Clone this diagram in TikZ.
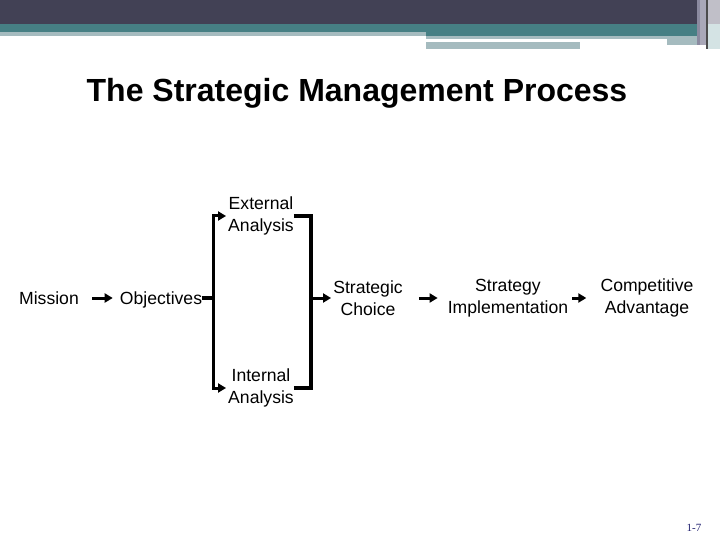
\documentclass[tikz,border=0pt]{standalone}
\usepackage{fontspec}
\setmainfont{Liberation Sans}
\newfontfamily\pagefont{Liberation Serif}
\usepackage{tikz}
\usetikzlibrary{arrows.meta}
\definecolor{bandDark}{HTML}{424155}
\definecolor{bandTeal}{HTML}{467F84}
\definecolor{bandLight}{HTML}{A5BBBF}
\definecolor{stripeMid}{HTML}{8B8AA0}
\definecolor{stripeSoft}{HTML}{A9A8B8}
\definecolor{stripeGray}{HTML}{C0BFC8}
\definecolor{stripePale}{HTML}{D4E3E4}
\definecolor{pageBlue}{HTML}{1F1F6E}
\tikzset{>={Triangle[length=8pt,width=9pt]}}
\tikzset{
  stage/.style={inner sep=0pt,align=center,font=\fontsize{17.6}{21.5}\selectfont},
  oneline/.style={stage,text height=12.6pt,text depth=0pt},
  flow/.style={->,line width=3pt},
  bracket/.style={line width=3.6pt}
}

\begin{document}
\begin{tikzpicture}[x=1pt,y=-1pt]
      \useasboundingbox (0,0) rectangle (720,540);

      % header bands
      \fill[bandDark] (0,0) rectangle (720,24);
      \fill[bandTeal] (0,24) rectangle (697,32);
      \fill[bandLight] (0,32) rectangle (426,36);
      \fill[bandTeal] (426,32) rectangle (697,36);
      \fill[bandLight] (426,36) rectangle (667,39);
      \fill[bandLight] (426,42) rectangle (580,49);
      \fill[bandLight] (667,36) rectangle (700,45);
      \fill[stripeMid] (697,0) rectangle (700,45);
      \fill[stripeSoft] (700,0) rectangle (706,45);
      \fill[black!70] (706,0) rectangle (708,49);
      \fill[stripeGray] (708,0) rectangle (720,24);
      \fill[stripePale] (708,24) rectangle (720,49);

      % title
      \node[font=\bfseries\fontsize{32}{38}\selectfont] (title) at (357,93) {The Strategic Management Process};

      % stages
      \node[oneline] (mission) at (49,298) {Mission};
      \node[oneline] (objectives) at (161,298) {Objectives};
      \node[stage] (external) at (261,216) {External\\Analysis};
      \node[stage] (internal) at (261,388) {Internal\\Analysis};
      \node[stage] (choice) at (368,298) {Strategic\\Choice};
      \node[stage] (implement) at (508,298) {Strategy\\Implementation};
      \node[stage] (advantage) at (647,298) {Competitive\\Advantage};

      \coordinate (split) at (213,298);
      \coordinate (join) at (311,298);

      \draw[flow,shorten <=13pt,shorten >=7pt] (mission.east) -- (objectives.west);
      \draw[bracket] (objectives.east) -- (split);
      \draw[flow,shorten >=2pt] (split) |- (external.west);
      \draw[flow,shorten >=2pt] (split) |- (internal.west);
      \draw[bracket] (external.east) -| (join);
      \draw[bracket] (internal.east) -| (join);
      \draw[flow,shorten >=2pt] (join) -- (choice.west);
      \draw[flow,shorten <=16pt,shorten >=10pt] (choice.east) -- (implement.west);
      \draw[flow,shorten <=4pt,shorten >=14pt] (implement.east) -- (advantage.west);

      % page number
      \node[pageBlue,font=\pagefont\fontsize{11}{13}\selectfont] (pagenum) at (694,528) {1-7};
    \end{tikzpicture}
\end{document}
